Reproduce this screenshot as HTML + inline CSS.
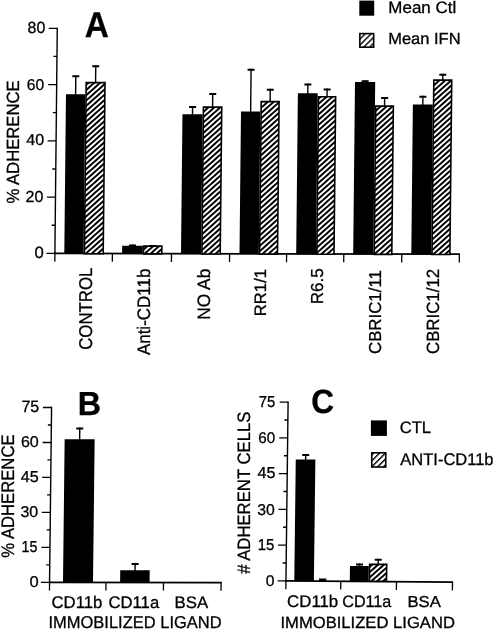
<!DOCTYPE html>
<html><head><meta charset="utf-8"><style>
html,body{margin:0;padding:0;background:#fff;}
svg{display:block;}
text{font-family:"Liberation Sans", sans-serif;fill:#000;stroke:#000;stroke-width:0.3px;text-rendering:geometricPrecision;}
svg{filter:grayscale(1);}
</style></head><body>
<svg width="496" height="629" viewBox="0 0 496 629">
<defs>
<pattern id="hatch" patternUnits="userSpaceOnUse" width="20" height="3.95" patternTransform="rotate(-42)">
<rect width="20" height="3.95" fill="#fff"/><rect y="0" width="20" height="1.95" fill="#000"/></pattern>
<pattern id="hatchL" patternUnits="userSpaceOnUse" width="20" height="4.2" patternTransform="rotate(-45)">
<rect width="20" height="4.2" fill="#fff"/><rect y="0" width="20" height="1.4" fill="#000"/></pattern>
</defs>
<rect width="496" height="629" fill="#fff"/>
<g transform="matrix(1,0,-0.0105,1,2.661,0)">
<line x1="54.90" y1="27.65" x2="54.90" y2="254.30" stroke="#000" stroke-width="1.4"/>
<line x1="46.40" y1="253.40" x2="54.90" y2="253.40" stroke="#000" stroke-width="1.3"/>
<line x1="46.40" y1="197.12" x2="54.90" y2="197.12" stroke="#000" stroke-width="1.3"/>
<line x1="46.40" y1="140.85" x2="54.90" y2="140.85" stroke="#000" stroke-width="1.3"/>
<line x1="46.40" y1="84.58" x2="54.90" y2="84.58" stroke="#000" stroke-width="1.3"/>
<line x1="46.40" y1="28.30" x2="54.90" y2="28.30" stroke="#000" stroke-width="1.3"/>
<line x1="51.40" y1="225.26" x2="54.90" y2="225.26" stroke="#000" stroke-width="1.3"/>
<line x1="51.40" y1="168.99" x2="54.90" y2="168.99" stroke="#000" stroke-width="1.3"/>
<line x1="51.40" y1="112.71" x2="54.90" y2="112.71" stroke="#000" stroke-width="1.3"/>
<line x1="51.40" y1="56.44" x2="54.90" y2="56.44" stroke="#000" stroke-width="1.3"/>
<line x1="54.20" y1="253.40" x2="460.05" y2="254.20" stroke="#000" stroke-width="1.8"/>
<line x1="54.90" y1="253.40" x2="54.90" y2="261.70" stroke="#000" stroke-width="1.3"/>
<line x1="112.40" y1="253.51" x2="112.40" y2="261.81" stroke="#000" stroke-width="1.3"/>
<line x1="171.50" y1="253.63" x2="171.50" y2="261.93" stroke="#000" stroke-width="1.3"/>
<line x1="229.60" y1="253.75" x2="229.60" y2="262.05" stroke="#000" stroke-width="1.3"/>
<line x1="286.60" y1="253.86" x2="286.60" y2="262.16" stroke="#000" stroke-width="1.3"/>
<line x1="343.80" y1="253.97" x2="343.80" y2="262.27" stroke="#000" stroke-width="1.3"/>
<line x1="401.80" y1="254.09" x2="401.80" y2="262.39" stroke="#000" stroke-width="1.3"/>
<line x1="459.40" y1="254.20" x2="459.40" y2="262.50" stroke="#000" stroke-width="1.3"/>
<rect x="73.25" y="75.30" width="1.40" height="19.40" fill="#000" />
<rect x="70.45" y="75.30" width="7.00" height="2.00" fill="#000" />
<rect x="93.10" y="65.20" width="1.40" height="17.10" fill="#000" />
<rect x="90.30" y="65.20" width="7.00" height="2.00" fill="#000" />
<rect x="64.30" y="94.20" width="19.30" height="159.52" fill="#000" />
<rect x="84.40" y="82.60" width="18.80" height="171.16" fill="url(#hatch)" stroke="#000" stroke-width="1.6"/>
<rect x="131.70" y="244.40" width="1.40" height="1.90" fill="#000" />
<rect x="128.90" y="244.40" width="7.00" height="2.00" fill="#000" />
<rect x="151.95" y="244.90" width="1.40" height="0.90" fill="#000" />
<rect x="149.15" y="244.90" width="7.00" height="2.00" fill="#000" />
<rect x="122.10" y="245.80" width="20.60" height="8.03" fill="#000" />
<rect x="143.50" y="246.10" width="18.30" height="7.77" fill="url(#hatch)" stroke="#000" stroke-width="1.6"/>
<rect x="190.35" y="106.00" width="1.40" height="8.70" fill="#000" />
<rect x="187.55" y="106.00" width="7.00" height="2.00" fill="#000" />
<rect x="210.35" y="93.10" width="1.40" height="13.70" fill="#000" />
<rect x="207.55" y="93.10" width="7.00" height="2.00" fill="#000" />
<rect x="181.00" y="114.20" width="20.10" height="139.75" fill="#000" />
<rect x="201.90" y="107.10" width="18.30" height="146.89" fill="url(#hatch)" stroke="#000" stroke-width="1.6"/>
<rect x="248.45" y="68.70" width="1.40" height="43.20" fill="#000" />
<rect x="245.65" y="68.70" width="7.00" height="2.00" fill="#000" />
<rect x="267.85" y="88.70" width="1.40" height="12.60" fill="#000" />
<rect x="265.05" y="88.70" width="7.00" height="2.00" fill="#000" />
<rect x="239.50" y="111.40" width="19.30" height="142.67" fill="#000" />
<rect x="259.60" y="101.60" width="17.90" height="152.50" fill="url(#hatch)" stroke="#000" stroke-width="1.6"/>
<rect x="305.40" y="83.60" width="1.40" height="10.20" fill="#000" />
<rect x="302.60" y="83.60" width="7.00" height="2.00" fill="#000" />
<rect x="324.70" y="88.40" width="1.40" height="8.10" fill="#000" />
<rect x="321.90" y="88.40" width="7.00" height="2.00" fill="#000" />
<rect x="296.20" y="93.30" width="19.80" height="160.88" fill="#000" />
<rect x="316.80" y="96.80" width="17.20" height="157.42" fill="url(#hatch)" stroke="#000" stroke-width="1.6"/>
<rect x="362.60" y="80.20" width="1.40" height="2.40" fill="#000" />
<rect x="359.80" y="80.20" width="7.00" height="2.00" fill="#000" />
<rect x="382.30" y="96.90" width="1.40" height="8.90" fill="#000" />
<rect x="379.50" y="96.90" width="7.00" height="2.00" fill="#000" />
<rect x="353.20" y="82.10" width="20.20" height="172.19" fill="#000" />
<rect x="374.20" y="106.10" width="17.60" height="148.23" fill="url(#hatch)" stroke="#000" stroke-width="1.6"/>
<rect x="420.55" y="95.80" width="1.40" height="9.20" fill="#000" />
<rect x="417.75" y="95.80" width="7.00" height="2.00" fill="#000" />
<rect x="440.25" y="73.70" width="1.40" height="6.10" fill="#000" />
<rect x="437.45" y="73.70" width="7.00" height="2.00" fill="#000" />
<rect x="411.30" y="104.50" width="19.90" height="149.90" fill="#000" />
<rect x="432.00" y="80.10" width="17.90" height="174.34" fill="url(#hatch)" stroke="#000" stroke-width="1.6"/>
</g>
<g transform="matrix(1,0,-0.0115,1,6.698,0)">
<line x1="49.55" y1="406.85" x2="49.55" y2="583.30" stroke="#000" stroke-width="1.4"/>
<line x1="40.95" y1="582.40" x2="49.55" y2="582.40" stroke="#000" stroke-width="1.3"/>
<line x1="40.95" y1="547.42" x2="49.55" y2="547.42" stroke="#000" stroke-width="1.3"/>
<line x1="40.95" y1="512.44" x2="49.55" y2="512.44" stroke="#000" stroke-width="1.3"/>
<line x1="40.95" y1="477.46" x2="49.55" y2="477.46" stroke="#000" stroke-width="1.3"/>
<line x1="40.95" y1="442.48" x2="49.55" y2="442.48" stroke="#000" stroke-width="1.3"/>
<line x1="40.95" y1="407.50" x2="49.55" y2="407.50" stroke="#000" stroke-width="1.3"/>
<line x1="46.05" y1="564.91" x2="49.55" y2="564.91" stroke="#000" stroke-width="1.3"/>
<line x1="46.05" y1="529.93" x2="49.55" y2="529.93" stroke="#000" stroke-width="1.3"/>
<line x1="46.05" y1="494.95" x2="49.55" y2="494.95" stroke="#000" stroke-width="1.3"/>
<line x1="46.05" y1="459.97" x2="49.55" y2="459.97" stroke="#000" stroke-width="1.3"/>
<line x1="46.05" y1="424.99" x2="49.55" y2="424.99" stroke="#000" stroke-width="1.3"/>
<line x1="48.85" y1="582.40" x2="221.75" y2="582.70" stroke="#000" stroke-width="1.8"/>
<line x1="49.55" y1="582.40" x2="49.55" y2="590.40" stroke="#000" stroke-width="1.3"/>
<line x1="106.00" y1="582.50" x2="106.00" y2="590.50" stroke="#000" stroke-width="1.3"/>
<line x1="163.50" y1="582.60" x2="163.50" y2="590.60" stroke="#000" stroke-width="1.3"/>
<line x1="221.10" y1="582.70" x2="221.10" y2="590.70" stroke="#000" stroke-width="1.3"/>
<rect x="77.30" y="427.50" width="1.40" height="12.30" fill="#000" />
<rect x="74.50" y="427.50" width="7.00" height="2.00" fill="#000" />
<rect x="63.00" y="439.30" width="30.00" height="143.40" fill="#000" />
<rect x="134.20" y="563.10" width="1.40" height="7.70" fill="#000" />
<rect x="131.40" y="563.10" width="7.00" height="2.00" fill="#000" />
<rect x="120.10" y="570.30" width="29.50" height="12.40" fill="#000" />
</g>
<g transform="matrix(1,0,-0.012,1,6.971,0)">
<line x1="285.95" y1="401.45" x2="285.95" y2="581.80" stroke="#000" stroke-width="1.4"/>
<line x1="277.55" y1="580.90" x2="285.95" y2="580.90" stroke="#000" stroke-width="1.3"/>
<line x1="277.55" y1="545.14" x2="285.95" y2="545.14" stroke="#000" stroke-width="1.3"/>
<line x1="277.55" y1="509.38" x2="285.95" y2="509.38" stroke="#000" stroke-width="1.3"/>
<line x1="277.55" y1="473.62" x2="285.95" y2="473.62" stroke="#000" stroke-width="1.3"/>
<line x1="277.55" y1="437.86" x2="285.95" y2="437.86" stroke="#000" stroke-width="1.3"/>
<line x1="277.55" y1="402.10" x2="285.95" y2="402.10" stroke="#000" stroke-width="1.3"/>
<line x1="282.45" y1="563.02" x2="285.95" y2="563.02" stroke="#000" stroke-width="1.3"/>
<line x1="282.45" y1="527.26" x2="285.95" y2="527.26" stroke="#000" stroke-width="1.3"/>
<line x1="282.45" y1="491.50" x2="285.95" y2="491.50" stroke="#000" stroke-width="1.3"/>
<line x1="282.45" y1="455.74" x2="285.95" y2="455.74" stroke="#000" stroke-width="1.3"/>
<line x1="282.45" y1="419.98" x2="285.95" y2="419.98" stroke="#000" stroke-width="1.3"/>
<line x1="285.25" y1="580.90" x2="453.15" y2="582.10" stroke="#000" stroke-width="1.8"/>
<line x1="285.95" y1="580.90" x2="285.95" y2="589.20" stroke="#000" stroke-width="1.3"/>
<line x1="340.80" y1="581.30" x2="340.80" y2="589.60" stroke="#000" stroke-width="1.3"/>
<line x1="396.50" y1="581.70" x2="396.50" y2="590.00" stroke="#000" stroke-width="1.3"/>
<line x1="452.50" y1="582.10" x2="452.50" y2="590.40" stroke="#000" stroke-width="1.3"/>
<rect x="303.50" y="454.00" width="1.40" height="5.90" fill="#000" />
<rect x="300.70" y="454.00" width="7.00" height="2.00" fill="#000" />
<rect x="294.30" y="459.40" width="19.60" height="121.80" fill="#000" />
<rect x="319.00" y="578.40" width="7.30" height="2.50" fill="#000" />
<rect x="358.60" y="563.60" width="1.40" height="2.90" fill="#000" />
<rect x="355.80" y="563.60" width="7.00" height="2.00" fill="#000" />
<rect x="349.80" y="566.00" width="18.80" height="15.30" fill="#000" />
<rect x="377.30" y="558.70" width="1.40" height="5.40" fill="#000" />
<rect x="374.50" y="558.70" width="7.00" height="2.00" fill="#000" />
<rect x="369.40" y="564.40" width="17.10" height="16.90" fill="url(#hatch)" stroke="#000" stroke-width="1.6"/>
</g>
<rect x="359.30" y="0.60" width="14.90" height="15.10" fill="#000" />
<rect x="359.85" y="33.6" width="13.8" height="13.6" fill="url(#hatchL)" stroke="#000" stroke-width="1.6"/>
<rect x="370.90" y="420.40" width="16.00" height="15.50" fill="#000" />
<rect x="371.75" y="452.8" width="14.0" height="14.2" fill="url(#hatchL)" stroke="#000" stroke-width="1.6"/>
<text transform="translate(84.72,36.95) scale(0.9376,1)" font-size="35.61" font-weight="bold">A</text>
<text transform="translate(77.79,415.25) scale(0.9705,1)" font-size="33.28" font-weight="bold">B</text>
<text transform="translate(311.15,413.12) scale(0.9418,1)" font-size="33.62" font-weight="bold">C</text>
<text transform="translate(388.36,12.55) scale(1.0229,1)" font-size="16.57" font-weight="normal">Mean Ctl</text>
<text transform="translate(388.20,44.35) scale(1.0236,1)" font-size="16.13" font-weight="normal">Mean IFN</text>
<text transform="translate(399.71,432.95) scale(1.0030,1)" font-size="16.57" font-weight="normal">CTL</text>
<text transform="translate(400.32,464.85) scale(0.9785,1)" font-size="16.86" font-weight="normal">ANTI-CD11b</text>
<text transform="translate(27.56,32.79) scale(0.9891,1)" font-size="16.10" font-weight="normal">80</text>
<text transform="translate(26.86,89.70) scale(0.9981,1)" font-size="15.68" font-weight="normal">60</text>
<text transform="translate(26.28,145.30) scale(1.0172,1)" font-size="15.82" font-weight="normal">40</text>
<text transform="translate(25.54,201.99) scale(1.0045,1)" font-size="15.96" font-weight="normal">20</text>
<text transform="translate(34.50,258.49) scale(1.0215,1)" font-size="16.38" font-weight="normal">0</text>
<text transform="translate(21.38,411.69) scale(0.9735,1)" font-size="16.48" font-weight="normal">75</text>
<text transform="translate(20.94,447.30) scale(1.0231,1)" font-size="15.68" font-weight="normal">60</text>
<text transform="translate(20.68,482.49) scale(1.0143,1)" font-size="15.91" font-weight="normal">45</text>
<text transform="translate(20.44,517.20) scale(1.0167,1)" font-size="15.68" font-weight="normal">30</text>
<text transform="translate(21.46,552.09) scale(0.8979,1)" font-size="15.91" font-weight="normal">15</text>
<text transform="translate(29.40,587.10) scale(1.0541,1)" font-size="15.68" font-weight="normal">0</text>
<text transform="translate(258.69,407.09) scale(0.9315,1)" font-size="15.91" font-weight="normal">75</text>
<text transform="translate(258.28,442.90) scale(0.9847,1)" font-size="15.40" font-weight="normal">60</text>
<text transform="translate(257.48,478.49) scale(1.0143,1)" font-size="15.91" font-weight="normal">45</text>
<text transform="translate(257.25,514.60) scale(1.0044,1)" font-size="15.68" font-weight="normal">30</text>
<text transform="translate(257.82,549.99) scale(0.9358,1)" font-size="15.91" font-weight="normal">15</text>
<text transform="translate(265.74,585.80) scale(1.0098,1)" font-size="15.54" font-weight="normal">0</text>
<text transform="translate(19.08,203.54) rotate(-90) scale(0.9441,1)" font-size="17.66" font-weight="normal">% ADHERENCE</text>
<text transform="translate(14.07,557.64) rotate(-90) scale(0.9220,1)" font-size="18.08" font-weight="normal">% ADHERENCE</text>
<text transform="translate(250.27,573.82) rotate(-90) scale(0.9316,1)" font-size="17.94" font-weight="normal"># ADHERENT CELLS</text>
<text transform="translate(92.47,349.80) rotate(-90) scale(0.9088,1)" font-size="18.50" font-weight="normal">CONTROL</text>
<text transform="translate(150.17,355.08) rotate(-90) scale(0.9363,1)" font-size="18.11" font-weight="normal">Anti-CD11b</text>
<text transform="translate(209.67,319.67) rotate(-90) scale(0.9630,1)" font-size="17.97" font-weight="normal">NO Ab</text>
<text transform="translate(265.99,316.22) rotate(-90) scale(1.0041,1)" font-size="16.61" font-weight="normal">RR1/1</text>
<text transform="translate(323.18,304.35) rotate(-90) scale(0.9814,1)" font-size="17.37" font-weight="normal">R6.5</text>
<text transform="translate(380.68,354.01) rotate(-90) scale(0.9739,1)" font-size="17.29" font-weight="normal">CBRIC1/11</text>
<text transform="translate(439.38,354.01) rotate(-90) scale(0.9517,1)" font-size="17.70" font-weight="normal">CBRIC1/12</text>
<text transform="translate(51.50,607.55) scale(0.9833,1)" font-size="17.01" font-weight="normal">CD11b</text>
<text transform="translate(108.50,607.55) scale(0.9984,1)" font-size="16.72" font-weight="normal">CD11a</text>
<text transform="translate(174.57,607.55) scale(1.0137,1)" font-size="16.57" font-weight="normal">BSA</text>
<text transform="translate(48.43,628.15) scale(0.9622,1)" font-size="17.15" font-weight="normal">IMMOBILIZED LIGAND</text>
<text transform="translate(287.10,606.75) scale(0.9977,1)" font-size="16.86" font-weight="normal">CD11b</text>
<text transform="translate(342.23,606.75) scale(0.9756,1)" font-size="16.57" font-weight="normal">CD11a</text>
<text transform="translate(407.48,607.15) scale(1.0536,1)" font-size="15.84" font-weight="normal">BSA</text>
<text transform="translate(280.42,627.85) scale(1.0215,1)" font-size="16.28" font-weight="normal">IMMOBILIZED LIGAND</text>
</svg>
</body></html>
